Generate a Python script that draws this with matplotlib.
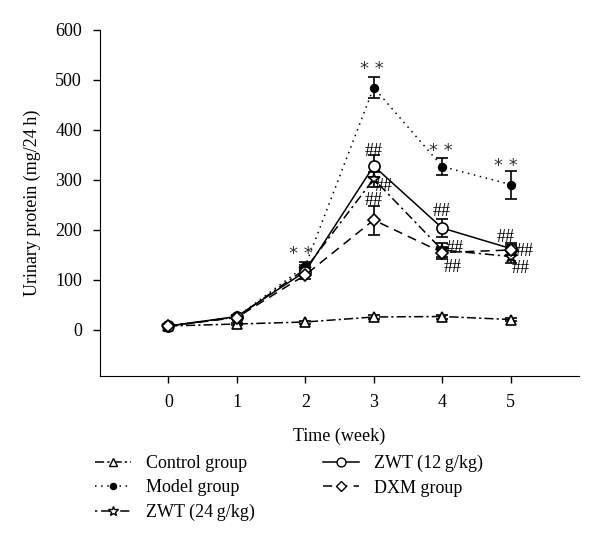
import matplotlib
matplotlib.use("Agg")
import matplotlib.pyplot as plt
from matplotlib.lines import Line2D

plt.rcParams['font.family'] = ['Liberation Serif', 'DejaVu Serif']

weeks = [0, 1, 2, 3, 4, 5]
control = [8, 12, 16, 26, 27, 21]
control_err = [2, 2, 3, 4, 4, 3]
model = [8, 26, 128, 485, 327, 291]
model_err = [2, 3, 8, 21, 17, 28]
zwt24 = [8, 26, 122, 302, 160, 147]
zwt24_err = [2, 3, 8, 15, 14, 12]
zwt12 = [8, 27, 117, 328, 204, 163]
zwt12_err = [2, 3, 8, 22, 18, 12]
dxm = [8, 25, 110, 220, 155, 160]
dxm_err = [2, 3, 8, 29, 12, 10]

labels = ['Control group', 'Model group', 'ZWT (24\u2009g/kg)',
          'ZWT (12\u2009g/kg)', 'DXM group']

star_labels = [(1.94, 152), (2.97, 521), (3.98, 357), (4.93, 328)]
hash_labels = [(3.0, 357), (3.14, 287), (3.0, 259),
               (4.0, 237), (4.19, 163), (4.16, 124),
               (4.93, 185), (5.21, 158), (5.15, 123)]

fig = plt.figure(figsize=(6.0, 5.47), dpi=100)
ax = fig.add_axes([100/600, 1 - 376/547, 479/600, 346/547])

styles = [
    dict(ls=(0, (6, 2, 1.5, 2)), marker='^', ms=6.5, mfc='white'),
    dict(ls=(0, (1, 3)), marker='o', ms=5.5, mfc='black'),
    dict(ls=(0, (1.5, 2.5, 6, 2.5)), marker='*', ms=9, mfc='white'),
    dict(ls='-', marker='o', ms=8, mfc='white'),
    dict(ls=(0, (6, 4)), marker='D', ms=6, mfc='white'),
]
series = [control, model, zwt24, zwt12, dxm]
errs = [control_err, model_err, zwt24_err, zwt12_err, dxm_err]

handles = []
for s, e, st, lab in zip(series, errs, styles, labels):
    ax.errorbar(weeks, s, yerr=e, color='black', capsize=4, elinewidth=1.2,
                capthick=1.2, lw=1.1, mec='black', mew=1.2, **st)
    handles.append(Line2D([], [], color='black', lw=1.1, mec='black', mew=1.0,
                          ls=st['ls'], marker=st['marker'],
                          ms=st['ms'] * 0.8, mfc=st['mfc'], label=lab))

for x, y in star_labels:
    ax.text(x, y, '* *', ha='center', va='center', fontsize=13,
            family='DejaVu Sans', color='#333333')
for x, y in hash_labels:
    ax.text(x, y, '##', ha='center', va='center', fontsize=13, color='black')

ax.set_xlim(-1, 6)
ax.set_ylim(-92, 600)
ax.set_xticks(weeks)
ax.set_yticks([0, 100, 200, 300, 400, 500, 600])
ax.spines['top'].set_visible(False)
ax.spines['right'].set_visible(False)
ax.tick_params(direction='out', length=5, width=1, labelsize=13, pad=8)
ax.set_xlabel('Time (week)', fontsize=13, labelpad=12)
ax.set_ylabel('Urinary protein (mg/24\u2009h)', fontsize=13, labelpad=10)

fig.legend(handles=handles, loc='upper left', bbox_to_anchor=(95/600, 1 - 455/547),
           ncol=2, frameon=False, fontsize=13, handlelength=2.0,
           handletextpad=0.8, columnspacing=3.8, labelspacing=0.4,
           borderaxespad=0, borderpad=0)

fig.savefig('out.png', dpi=100)
